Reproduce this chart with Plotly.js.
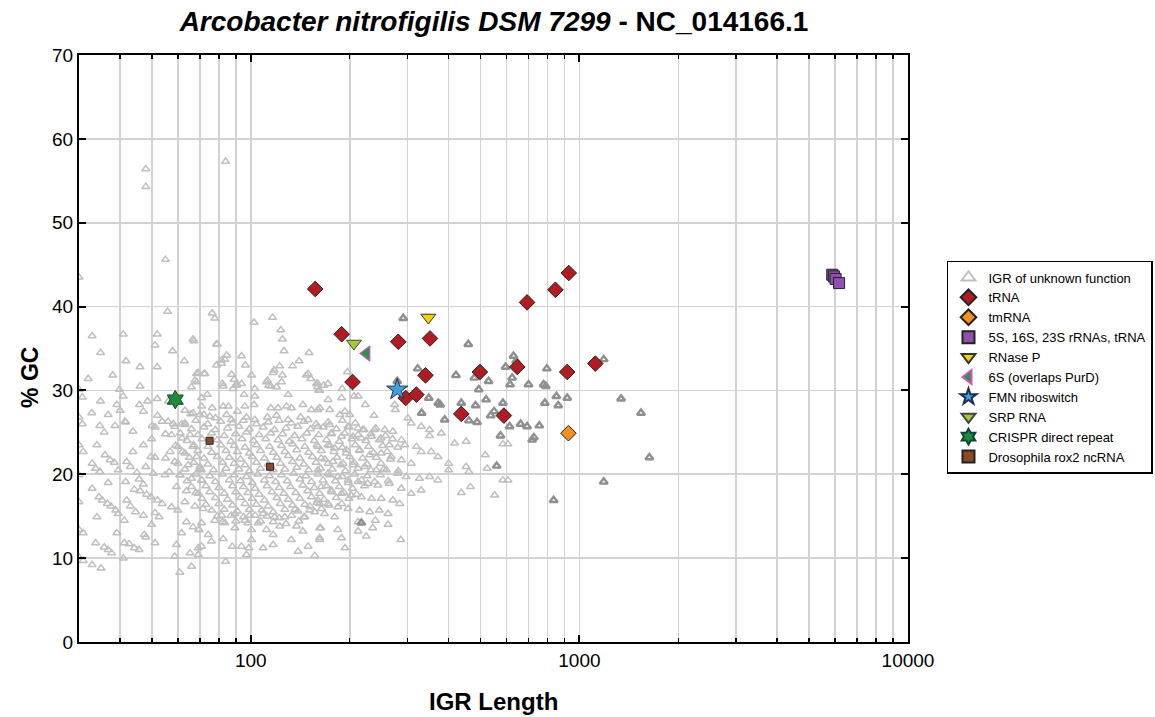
<!DOCTYPE html>
<html>
<head>
<meta charset="utf-8">
<script src="https://cdn.plot.ly/plotly-3.0.1.min.js"></script>
<style>html,body{margin:0;padding:0;background:#fff;}#chart{width:1155px;height:717px;}</style>
</head>
<body>
<div id="chart"></div>
<script>
// IGR of unknown function (light grey, [length, %GC])
const igrLight = [
[47.9,56.4],[47.9,54.3],[83.8,57.3],[55.0,45.6],[30,43.5],
[55.8,39.4],[32.9,36.5],[40.9,36.7],[51.9,36.7],[51.1,35.4],[67.1,35.9],[34.9,34.5],[57.8,34.7],[41.7,33.5],[62.8,33.5],[46.0,32.8],[51.9,32.8],[38.0,31.8],[32.0,31.4],[69.2,32.1],[72,32.0],[67.6,31.2],[66,30.4],[46,30.5],[39.8,30.1],[30,30.1],[30.7,29.2],[34.9,28.7],[40.9,29.3],[39.1,28.3],[45.8,28.3],[48.5,28.7],[51.9,29.0],[56.1,28.7],[63.0,27.6],[66.7,27.3],[32.8,27.3],[36.8,27.1],[30,26.8],[40,27.6],[41.4,26.3],[47.1,27.5],[52,27.0],[53.7,26.3],[58.1,26.0],[61.6,26.0],[65.7,27.2],[72,27.1],[34.7,25.8],[30.7,26.0],[38.6,25.8],[50.1,25.8],
[35.8,25.0],[43.8,25.1],[51.1,25.6],[41.6,26.2],[49.9,24.2],[47.1,23.5],[30,23.5],[34.0,23.5],[30.9,22.7],[43.8,22.7],[36.0,22.3],[37.3,21.7],[38.4,21.4],[41.9,21.5],[49.7,22.1],[51.1,22.0],[55.0,21.9],[32.9,21.3],[33.7,20.7],[34.7,20.3],[39.5,20.5],[43.0,20.9],[45.0,20.2],[47.9,20.9],[50.5,20.1],[56.5,20.3],[54.8,19.9],[30,19.9],[36.8,19.0],[41.6,19.1],[45.7,19.4],[47.1,18.8],[32.9,18.3],[44.2,18.2],[46.0,18.0],[48.2,17.6],[49.7,17.3],[52.0,16.9],[53.7,16.5],[57.4,16.1],[60.0,15.7],[34.5,17.3],[35.3,16.9],[36.6,16.5],[37.5,16.2],[38.8,15.7],[39.5,15.3],[41.9,16.9],[43.0,16.2],[44.6,15.5],[47.1,15.1],[41.2,14.5],[30,16.7],[34.0,14.9],[51.1,15.4],[52.6,14.9],[49.9,14.0],[47.4,12.8],[47.9,12.5],[39.1,13.0],[30,13.4],[30.9,13.0],[33.7,11.8],[35.8,11.3],[36.8,11.0],[37.7,10.6],[41.2,11.8],[42.6,11.7],[44.2,11.2],[45.7,11.0],[51.1,11.8],[40.9,10.0],[30,10.1],[30.9,9.7],[32.9,9.2],[35.0,8.8],[60.8,8.3],[58.7,10.2],[65.3,10.6],[66.0,9.0],[63.7,14.3],[66.7,13.7],[69.5,13.4],[61.6,13.0],[59.4,11.6],[69.2,11.2],
[58.7,25.7],[63.0,25.9],[57.4,24.7],[61.8,24.3],[65.3,24.7],[60.0,23.3],[66.7,23.3],[56.8,22.7],[63.0,22.5],[68.4,22.1],[58.7,21.5],[64.5,21.1],[70,20.9],[60.8,19.9],[66.0,19.5],[70.8,19.3],[59.4,18.5],[63.7,18.0],[69.2,17.7],[63.0,16.7],[67.6,16.2],[71.6,15.9],[70.8,20.5],
[76.3,39.2],[77.7,38.6],[102.3,38.1],[116.4,38.7],[123.4,37.2],[124.8,36.1],[126.2,34.7],[150.4,34.5],[140.3,33.5],[134.0,32.9],[78.6,35.5],[84.4,34.2],[81.5,33.6],[78.6,33.0],[93.7,34.1],[96.3,33.0],[117.7,32.4],[124.8,31.8],[147.6,31.8],[152.3,31.4],[68.4,32.0],[72.5,32.0],
[87.4,31.9],[100.5,31.8],[89.0,31.3],[90.5,30.6],[112.4,31.2],[115.1,30.5],[119.7,30.4],[102.8,30.2],[82.4,30.5],[73.7,29.5],[129.9,29.5],[159.5,30.4],[162.1,30.0],[95.4,29.5],[102.8,29.3],[70.8,29.1],[70.8,28.1],[76.3,27.9],[82.4,28.1],[85.4,28.1],[95.9,28.1],[102.3,28.3],[115.1,27.9],[121.0,27.9],[128.4,28.1],[132.9,27.9],[144.1,28.3],[152.9,27.7],[162.1,27.9],[91.1,27.5],[84.4,27.1],[70,27.1],[75.0,26.9],[78.1,26.7],[112.4,26.8],[119.7,27.0],[141.8,26.8],[149.4,26.5],[97.0,26.8],[87.4,26.5],[102.8,26.5],[129.9,26.5],
[81.5,33.2],[83.3,33.7],[68.4,31.0],[81.9,30.8],[90.5,30.8],[88.3,30.2],[93.7,30.8],[111.6,31.0],[113.4,30.6],[124,31.0],[116.9,32.1],[122.5,32.9],[149.4,32.0],[158.5,30.8],[166.7,30.6],[79.0,35.5],[66.7,36.1],
[74.2,12.8],[75.9,12.0],[83.8,9.6],[87.8,11.4],[82.4,12.3],[70.8,11.4],[69.2,10.4],[93.7,11.4],[98.6,11.2],[97.0,10.4],[100.5,12.2],[109.0,11.2],[116.9,11.6],[116.9,12.8],[132.9,12.2],[137.8,13.8],[144.1,13.2],[149.4,11.4],[163.3,13.6],[156.5,10.3],[139.3,10.8],[162.1,12.2],[69.5,13.4],[89.5,13.6],[100.5,13.4],[122.5,13.8],[111.6,13.4],[126.9,14.9],[118.1,14.9],[145.9,14.9],[136.3,15.8],[156.5,15.5],[151.3,16.2],[162.1,16.5],[70.8,14.2],[77.7,14.5],[83.3,14.2],[95.9,14.5],[105.3,14.2],[81.5,15.1],[89.5,15.3],[99.3,15.1],[109.0,15.3],
[196.8,32.2],[160,30.8],[171.8,30.8],[189.7,30.2],[161,30.0],[171.8,28.9],[188.9,29.1],[206.2,29.3],[212.1,29.3],[223.0,28.3],[237.0,27.0],[274,28.3],[275.4,27.7],[160,27.7],[173.8,27.7],[186.6,27.1],[193.4,27.5],[200,27.1],[300.6,26.7],[307.6,26.1],[330,25.7],[350,25.3],[350,24.6],[380,24.9],
[173.8,25.9],[160,25.7],[197.7,25.7],[212,25.5],[221,25.3],[238,25.3],[255.7,25.3],[270.6,25.1],[175.8,24.9],[188.9,24.5],[204.6,24.5],[216.9,24.3],[233,24.5],[249,24.3],[264,23.5],[287.3,24.1],[294,23.5],[319,23.3],[330,22.7],[354,22.7],[371,22.1],
[160,23.3],[171.8,23.5],[180,23.1],[195.6,22.9],[214.4,22.9],[230,22.3],[249.4,22.5],[267.5,22.1],[287.3,21.7],[307.6,21.3],[163.8,21.9],[177.9,21.5],[190.9,21.3],[204.6,21.1],[221.8,20.9],[241,20.5],[258.6,20.5],[280,20.1],[297,19.7],[326,19.5],[350,19.7],[371,19.3],
[160,20.5],[171.8,20.1],[184,19.7],[197.7,19.3],[212,19.1],[227,18.9],[243.6,18.7],[264,18.9],[287,18.3],[307.6,17.7],[330,18.1],[163.8,18.5],[175.8,18.1],[188.9,17.7],[202,17.5],[216.9,17.3],[233,17.1],[249.4,17.1],[270.6,16.9],[284,16.5],
[160,16.9],[171.8,16.5],[184,16.1],[197.7,15.9],[214.4,15.7],[230,15.5],[246,15.7],[261.6,15.3],[167.6,15.3],[180,14.9],[212,14.3],[239.4,14.5],[162,13.6],[184,13.4],[212,13.2],[235,13.6],[261.6,14.0],[188.9,12.4],[224.5,12.6],[162,12.4],[286,12.2],[193.4,11.2],
[517,22.3],[524,20.7],[585,23.6],[606,23.6],[585,19.3],[606,19.3],[552,17.5],[452,20.9],[461,20.3],[400,21.3],[400,20.5],[417,23.7],[452,23.9],[437,17.8],[466,18.5],
[56,26.3],[63,26.1],[68,26.4],[74,26.0],[81,26.3],[88,26.1],[95,26.4],[104,26.0],[113,26.2],[122,26.4],[133,26.1],[145,26.3],[158,26.0],[172,26.2],[190,26.4],[208,26.1],
[66,25.4],[72,25.6],[78,25.3],[85,25.5],[92,25.7],[99,25.4],[109,25.6],[118,25.3],[128,25.5],[139,25.7],[152,25.4],[166,25.6],[182,25.4],[199,25.6],[219,25.3],[240,25.5],
[55,24.8],[61,24.9],[69,24.7],[76,24.9],[83,24.6],[90,24.8],[97,25.0],[106,24.7],[115,24.9],[125,24.8],[136,24.6],[148,24.9],[161,24.7],[176,24.8],[193,24.9],[212,24.7],[232,24.8],[257,24.6],
[64,24.0],[71,24.2],[79,24.1],[87,23.9],[94,24.2],[102,24.0],[111,24.2],[121,24.1],[131,23.9],[143,24.2],[156,24.0],[170,24.1],[186,23.9],[203,24.2],[224,24.0],[246,24.1],[270,24.2],
[59,23.4],[67,23.5],[74,23.3],[81,23.5],[89,23.4],[96,23.2],[104,23.5],[114,23.3],[124,23.4],[134,23.6],[146,23.3],[159,23.5],[174,23.4],[190,23.2],[208,23.5],[228,23.3],[252,23.4],[280,23.2],
[62,22.7],[69,22.8],[76,22.6],[84,22.8],[91,22.7],[99,22.5],[107,22.8],[117,22.6],[127,22.7],[138,22.9],[150,22.6],[164,22.8],[179,22.7],[195,22.5],[214,22.8],[236,22.6],[260,22.7],
[65,22.0],[72,21.9],[79,22.1],[86,22.0],[93,21.8],[101,22.1],[110,21.9],[120,22.0],[130,22.2],[141,21.9],[154,22.1],[168,21.8],[183,22.0],[200,22.1],[219,21.9],[241,22.0],[266,21.8],
[60,21.3],[67,21.4],[74,21.2],[82,21.4],[89,21.3],[96,21.1],[104,21.4],[113,21.2],[123,21.3],[134,21.5],[145,21.2],[158,21.4],[172,21.3],[188,21.1],[206,21.4],[226,21.2],[249,21.3],
[63,20.6],[70,20.7],[77,20.5],[84,20.7],[92,20.6],[99,20.4],[107,20.7],[117,20.5],[127,20.6],[138,20.8],[150,20.5],[163,20.7],[177,20.6],[194,20.4],[212,20.7],[232,20.5],[254,20.6],[281,20.4],
[61,19.9],[68,20.0],[75,19.8],[82,20.0],[89,19.9],[97,19.7],[105,20.0],[114,19.8],[124,19.9],[135,20.1],[147,19.8],[160,20.0],[174,19.9],[190,19.7],[207,20.0],[226,19.8],[248,19.9],
[64,19.2],[71,19.3],[78,19.1],[86,19.3],[93,19.2],[101,19.0],[110,19.3],[119,19.1],[129,19.2],[141,19.4],[153,19.1],[166,19.3],[181,19.2],[198,19.0],[217,19.3],[238,19.1],[262,19.2],
[66,18.5],[73,18.6],[80,18.4],[88,18.6],[95,18.5],[103,18.3],[112,18.6],[122,18.4],[132,18.5],[144,18.7],[156,18.4],[170,18.6],[186,18.5],[204,18.3],[222,18.6],
[68,17.8],[75,17.9],[83,17.7],[90,17.9],[98,17.8],[106,17.6],[116,17.9],[126,17.7],[137,17.8],[149,18.0],[162,17.7],[176,17.9],[192,17.8],[210,17.6],
[71,17.1],[78,17.2],[85,17.0],[93,17.2],[101,17.1],[110,16.9],[120,17.2],[130,17.0],[141,17.1],[153,17.3],[167,17.0],[182,17.2],[199,17.1],
[73,16.4],[80,16.5],[88,16.3],[96,16.5],[104,16.4],[113,16.2],[123,16.5],[134,16.3],[146,16.4],[159,16.6],[173,16.3],[189,16.5],
[76,15.7],[83,15.8],[91,15.6],[99,15.8],[108,15.7],[117,15.5],[127,15.8],[139,15.6],[151,15.7],[164,15.9],
[79,15.0],[87,15.1],[95,14.9],[103,15.1],[112,15.0],[122,14.8],[133,15.1],[145,14.9],
[82,14.3],[90,14.4],[98,14.2],[107,14.4],[117,14.3],[128,14.1],[140,14.4]
];
// IGR of unknown function (darker grey group)
const igrDark = [
[291,38.6],[459,35.5],[322,32.6],[279,31.1],[421,31.8],[497,32.1],[479,31.5],[529,31.1],[494,30.1],[630,34.1],[642,33.5],[596,32.8],[624,31.5],[615,30.7],[700,30.7],[796,32.6],[778,30.7],[790,30.5],[1186,33.7],[348,29.1],[372,28.5],[377,28.3],[437,28.5],[483,28.2],[520,28.9],[585,28.5],[550,27.5],[537,27.0],[785,28.5],[851,29.3],[918,29.1],[862,28.2],[331,27.3],[389,26.5],[461,26.4],[488,26.2],[613,25.7],[662,26.0],[693,25.7],[755,25.8],[575,24.6],[718,24.1],[727,24.4],[1339,29.0],[1540,27.3],[1633,22.0],[1186,19.1],[835,16.9],[560,21.0],[217,14.2]
];
const trnaLen = [157,189,204,281,351,296,319,340,437,498,589,647,693,845,928,918,1118];
const trnaGC  = [42.1,36.7,31.0,35.8,36.2,29.1,29.5,31.8,27.2,32.2,27.0,32.8,40.5,42.0,44.0,32.2,33.2];
const tmrnaLen = [926], tmrnaGC = [24.9];
const rrnaLen = [5880,5950,6020,6170], rrnaGC = [43.8,43.6,43.3,42.8];
const rnasepLen = [347], rnasepGC = [38.7];
const s6Len = [225], s6GC = [34.4];
const fmnLen = [279], fmnGC = [30.1];
const srpLen = [206], srpGC = [35.6];
const crisprLen = [58.9], crisprGC = [28.9];
const roxLen = [74.9,114.5], roxGC = [24.0,20.9];

const traces = [
  {x: igrLight.map(p=>p[0]), y: igrLight.map(p=>p[1]), mode:'markers', type:'scatter', name:'IGR of unknown function', legendgroup:'igr',
   marker:{symbol:'triangle-up-open', size:7, color:'#bfbfbf', line:{width:1.5, color:'#bfbfbf'}}},
  {x: igrDark.map(p=>p[0]), y: igrDark.map(p=>p[1]), mode:'markers', type:'scatter', name:'IGR of unknown function', legendgroup:'igr', showlegend:false,
   marker:{symbol:'triangle-up-open', size:7, color:'#8f8f8f', line:{width:2.4, color:'#8f8f8f'}}},
  {x: trnaLen, y: trnaGC, mode:'markers', type:'scatter', name:'tRNA',
   marker:{symbol:'diamond', size:12, color:'#b01c22', line:{width:1, color:'#222'}}},
  {x: tmrnaLen, y: tmrnaGC, mode:'markers', type:'scatter', name:'tmRNA',
   marker:{symbol:'diamond', size:12, color:'#f5901e', line:{width:1, color:'#222'}}},
  {x: rrnaLen, y: rrnaGC, mode:'markers', type:'scatter', name:'5S, 16S, 23S rRNAs, tRNA',
   marker:{symbol:'square', size:11, color:'#9150ad', line:{width:1, color:'#222'}}},
  {x: rnasepLen, y: rnasepGC, mode:'markers', type:'scatter', name:'RNase P',
   marker:{symbol:'triangle-down', size:13, color:'#f7d000', line:{width:1, color:'#333'}}},
  {x: s6Len, y: s6GC, mode:'markers', type:'scatter', name:'6S (overlaps PurD)',
   marker:{symbol:'triangle-left', size:13, color:'#22994a', line:{width:1.2, color:'#d154b8'}}},
  {x: fmnLen, y: fmnGC, mode:'markers', type:'scatter', name:'FMN riboswitch',
   marker:{symbol:'star', size:16, color:'#3ea3dd', line:{width:1, color:'#1b3050'}}},
  {x: srpLen, y: srpGC, mode:'markers', type:'scatter', name:'SRP RNA',
   marker:{symbol:'triangle-down', size:13, color:'#a6c932', line:{width:1, color:'#444'}}},
  {x: crisprLen, y: crisprGC, mode:'markers', type:'scatter', name:'CRISPR direct repeat',
   marker:{symbol:'hexagram', size:14, color:'#1f8a3c', line:{width:1, color:'#143'}}},
  {x: roxLen, y: roxGC, mode:'markers', type:'scatter', name:'Drosophila rox2 ncRNA',
   marker:{symbol:'square', size:7, color:'#8a4a22', line:{width:1, color:'#222'}}}
];

const gridC = '#d2d2d2';
const layout = {
  width:1155, height:717,
  paper_bgcolor:'#fff', plot_bgcolor:'#fff',
  separators:'.\u200b',
  font:{family:'Arial, "Liberation Sans", sans-serif', color:'#000'},
  margin:{l:79, r:247, t:55, b:75, autoexpand:false},
  title:{text:'<b><i>Arcobacter nitrofigilis DSM 7299</i> - NC_014166.1</b>', font:{size:28, color:'#000'}, x:0.4277, xanchor:'center', y:0.970, yanchor:'middle'},
  xaxis:{type:'log', range:[Math.log10(30), 4], dtick:1, exponentformat:'none', automargin:false,
    showline:true, linecolor:'#000', linewidth:2, mirror:'ticks',
    ticks:'inside', ticklen:7, tickwidth:2, tickcolor:'#000',
    showgrid:true, gridcolor:gridC, gridwidth:1.6, zeroline:false,
    minor:{dtick:'D1', ticks:'inside', ticklen:4, tickwidth:1.5, tickcolor:'#000', showgrid:true, gridcolor:gridC, gridwidth:1.6},
    tickfont:{size:19, color:'#000'}},
  yaxis:{range:[0,70], dtick:10, automargin:false, showline:true, linecolor:'#000', linewidth:2, mirror:'ticks',
    ticks:'inside', ticklen:7, tickwidth:2, tickcolor:'#000',
    showgrid:true, gridcolor:gridC, gridwidth:1.6, zeroline:false,
    tickfont:{size:19, color:'#000'}},
  annotations:[
    {text:'<b>IGR Length</b>', xref:'paper', yref:'paper', x:0.5, y:-0.102, xanchor:'center', yanchor:'middle', showarrow:false, font:{size:24, color:'#000'}},
    {text:'<b>% GC</b>', xref:'paper', yref:'paper', x:-0.059, y:0.45, xanchor:'center', yanchor:'middle', textangle:-90, showarrow:false, font:{size:23, color:'#000'}}
  ],
  showlegend:true,
  legend:{xref:'container', yref:'container', x:0.8199, y:0.636, xanchor:'left', yanchor:'top', bgcolor:'#fff', bordercolor:'#000', borderwidth:1.5,
    font:{size:13, color:'#000'}, tracegroupgap:0, itemsizing:'constant', itemwidth:30}
};
Plotly.newPlot('chart', traces, layout, {displayModeBar:false, staticPlot:true});
</script>
</body>
</html>
